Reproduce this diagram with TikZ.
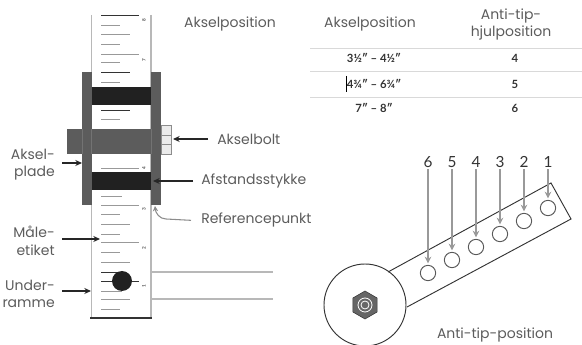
\documentclass[tikz,border=0pt]{standalone}
\usepackage{fontspec}
\setmainfont{Poppins}
\newfontfamily\cellfont{Lato}
\usetikzlibrary{positioning}
\usetikzlibrary{shapes.geometric}
\usetikzlibrary{arrows.meta}
\definecolor{textColor}{gray}{0.36}
\definecolor{railColor}{gray}{0.72}
\definecolor{plateColor}{gray}{0.36}
\definecolor{bandColor}{gray}{0.13}
\definecolor{tickColor}{gray}{0.6}
\begin{document}
\begin{tikzpicture}[x=0.75pt,y=-0.75pt]

          \tikzstyle{labelNode} = [textColor, font=\fontsize{10.5}{12.8}\selectfont, inner sep=0pt, yshift=-1pt];
          \tikzstyle{sideNode} = [labelNode, align=right, anchor=east];
          \tikzstyle{cellNode} = [black!80, font=\cellfont\fontsize{8.5}{10}\selectfont\bfseries, inner sep=0pt];
          \tikzstyle{scaleNode} = [black!70, font=\cellfont\fontsize{3.5}{4}\selectfont\bfseries, rotate=90, inner sep=0pt];
          \tikzstyle{numberNode} = [black!80, font=\cellfont\fontsize{11.5}{13}\selectfont, inner sep=1pt];
          \tikzstyle{holeNode} = [circle, draw=black!65, fill=white, line width=0.7pt, minimum size=11.5pt, inner sep=0pt, outer sep=1.5pt];

          \tikzstyle{blackArrow} = [line width=1.5pt, black!85, -{Stealth[length=5pt,width=4.5pt]}];
          \tikzstyle{grayArrow} = [line width=0.8pt, black!40, -{Stealth[length=5pt,width=5pt]}];
          \tikzstyle{grayLine} = [line width=0.8pt, railColor];
          \tikzstyle{rowLine} = [line width=0.7pt, black!15];
          \tikzstyle{longTick} = [line width=0.7pt, black!80];
          \tikzstyle{shortTick} = [line width=0.7pt, tickColor];

          \useasboundingbox (0,0) rectangle (582,345);

          % rail
          \draw[grayLine] (91.5,15) -- (91.5,318);
          \draw[grayLine] (151,15) -- (151,318);
          \draw[line width=1.1pt, black!80] (90,318) -- (152,318);

          % ticks
          \foreach \y/\e in {25/120,34.5/130,44/120,54/139,62/120,82/120,119.5/120,168/139,196/122,205/139,214/120,224/130,234/120,242/139,252/120,262/130,291/122,299/130,309/120}
            \draw[shortTick] (101,\y) -- (\e,\y);
          \foreach \y/\e in {15/139,72/130,110/130,272/125,281/139}
            \draw[longTick] (101,\y) -- (\e,\y);

          \node[scaleNode] (s8) at (144,20) {8};
          \node[scaleNode] (s7) at (144,60) {7};
          \node[scaleNode] (s4) at (144,168) {4};
          \node[scaleNode] (s3) at (144,209) {3};
          \node[scaleNode] (s2) at (144,248) {2};
          \node[scaleNode] (s1) at (144,286) {1};

          % plates, bands, axle
          \fill[plateColor] (67,129) rectangle (151,154);
          \fill[plateColor] (82,72) rectangle (91.5,205);
          \fill[plateColor] (151,72) rectangle (161,205);
          \draw[black!55, line width=0.4pt] (82,129) -- (82,154) (91.5,129) -- (91.5,154) (151,129) -- (151,154);
          \fill[bandColor] (91.5,87) rectangle (151,105);
          \fill[bandColor] (91.5,172) rectangle (151,190);
          \draw[black!45, fill=black!8, line width=0.5pt] (161,125) rectangle (171,135);
          \draw[black!45, fill=black!8, line width=0.5pt] (161,135) rectangle (171,144);
          \draw[black!45, fill=black!8, line width=0.5pt] (161,144) rectangle (171,154);

          \node[circle, fill=bandColor, minimum size=15pt, inner sep=0pt] (dot) at (122,281) {};
          \draw[grayLine] (151,272) -- (273,272);
          \draw[grayLine] (151,299) -- (273,299);

          % labels
          \node[labelNode] (pos) at (230,23) {Akselposition};
          \node[labelNode, anchor=west] (bolt) at (217,138) {Akselbolt};
          \node[labelNode, anchor=west] (spacer) at (201,180) {Afstandsstykke};
          \node[labelNode, anchor=west] (ref) at (201,219) {Referencepunkt};
          \node[sideNode] (plate) at (55,163.5) {Aksel-\\plade};
          \node[sideNode] (label) at (55,239.5) {Måle-\\etiket};
          \node[sideNode] (frame) at (55,292.5) {Under-\\ramme};

          \coordinate (boltEnd) at (173,139);
          \coordinate (plateEnd) at (82,163);
          \coordinate (spacerEnd) at (153,181);
          \coordinate (refEnd) at (155,206);
          \coordinate (labelEnd) at (100,239);
          \coordinate (frameEnd) at (91,291);

          \draw[blackArrow] (208,139) -- (boltEnd);
          \draw[blackArrow] (62,163) -- (plateEnd);
          \draw[blackArrow] (193,181) -- (spacerEnd);
          \draw[blackArrow] (62,239) -- (labelEnd);
          \draw[blackArrow] (62,291) -- (frameEnd);
          \draw[line width=0.8pt, black!45, -{Stealth[length=4pt,width=4pt]}] (ref.west) ++(-10,0) -- (166,219) to[out=180,in=-85] (refEnd);

          % table
          \node[labelNode] (headA) at (370,23) {Akselposition};
          \node[labelNode, align=center] (headB) at (511,23.5) {Anti-tip-\\hjulposition};
          \draw[rowLine] (310,48) -- (582,48);
          \draw[rowLine] (310,71) -- (582,71);
          \draw[rowLine] (310,97) -- (582,97);
          \node[cellNode] (a1) at (374,58) {3½″ – 4½″};
          \node[cellNode] (a2) at (374,84) {4¾″ – 6¾″};
          \node[cellNode] (a3) at (374,108) {7″ – 8″};
          \node[cellNode] (b1) at (515,58) {4};
          \node[cellNode] (b2) at (515,84) {5};
          \node[cellNode] (b3) at (515,108) {6};
          \draw[black, line width=0.6pt] (346,76) -- (346,92);

          % arm
          \draw[black!80, line width=0.7pt] (388,272) -- (551,183) -- (571,219) -- (407,307);
          \draw[black!80, line width=0.7pt] (365,305) circle [radius=41];
          \node[regular polygon, regular polygon sides=6, shape border rotate=30, fill=black!60, draw=black!80, minimum size=21pt, inner sep=0pt] (nut) at (365,305) {};
          \draw[white, line width=0.6pt] (nut.center) circle [radius=7];
          \draw[white, line width=0.6pt] (nut.center) circle [radius=4];

          \foreach \n/\x/\y in {6/428/273,5/452/260,4/476/247,3/500/234,2/524/221,1/548/208}
            \node[holeNode] (hole\n) at (\x,\y) {};
          \foreach \n/\x in {6/428,5/452,4/476,3/500,2/524,1/548}
            \node[numberNode] (num\n) at (\x,162) {\n};
          \foreach \n in {1,...,6}
            \draw[grayArrow] (num\n) -- (hole\n);

          \node[labelNode] (tip) at (495,334) {Anti-tip-position};
\end{tikzpicture}
\end{document}
